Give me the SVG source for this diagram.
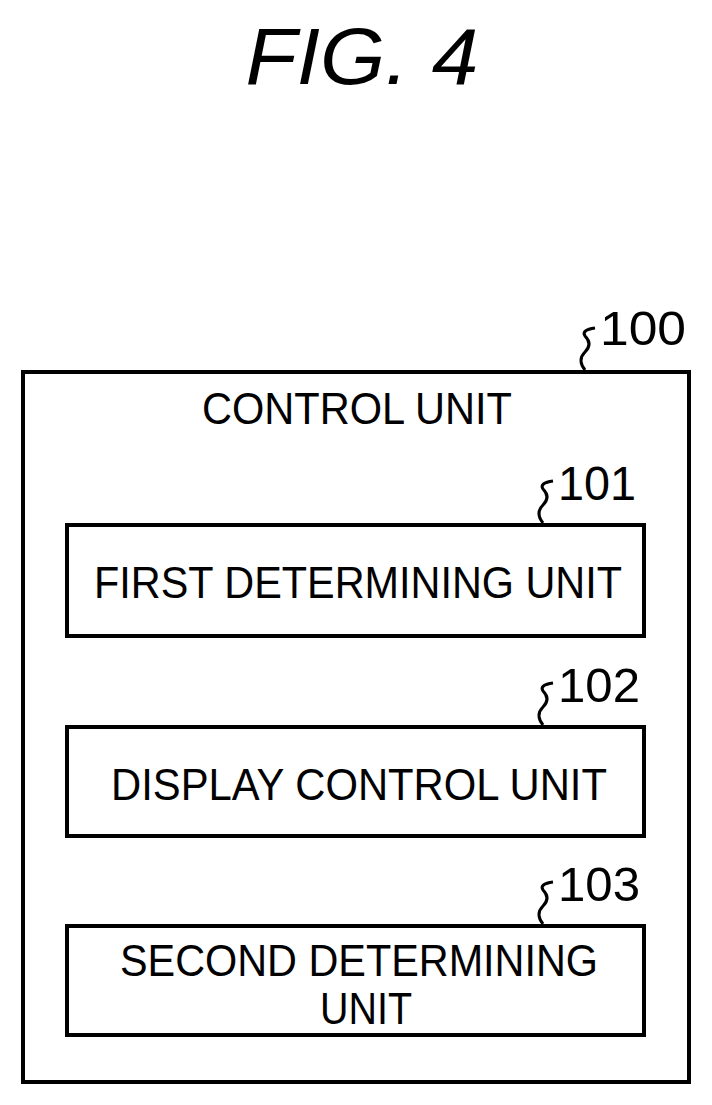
<svg xmlns="http://www.w3.org/2000/svg" width="712" height="1105" viewBox="0 0 712 1105">
<style>
.b{fill:#fff;stroke:#000;stroke-width:4}
.t{font-family:"Liberation Sans",Arial,sans-serif;font-size:44px;fill:#000}
.n{font-size:48px}
.s{fill:none;stroke:#000;stroke-width:3}
</style>
<rect width="712" height="1105" fill="#fff"/>
<text x="362" y="84" text-anchor="middle" class="t" style="font-size:80px;font-style:italic" textLength="233" lengthAdjust="spacingAndGlyphs">FIG. 4</text>
<g id="n100"><rect class="b" x="23" y="372" width="666" height="710"/>
<text x="357" y="424" text-anchor="middle" class="t" textLength="310" lengthAdjust="spacingAndGlyphs">CONTROL UNIT</text></g>
<g id="n101"><rect class="b" x="67" y="525" width="577" height="111"/>
<text x="358" y="598" text-anchor="middle" class="t" textLength="528" lengthAdjust="spacingAndGlyphs">FIRST DETERMINING UNIT</text></g>
<g id="n102"><rect class="b" x="67" y="727" width="577" height="109"/>
<text x="359" y="800" text-anchor="middle" class="t" textLength="496" lengthAdjust="spacingAndGlyphs">DISPLAY CONTROL UNIT</text></g>
<g id="n103"><rect class="b" x="67" y="926" width="577" height="109"/>
<text x="359" y="976" text-anchor="middle" class="t" textLength="478" lengthAdjust="spacingAndGlyphs">SECOND DETERMINING</text>
<text x="366" y="1024" text-anchor="middle" class="t" textLength="92" lengthAdjust="spacingAndGlyphs">UNIT</text></g>
<g id="labels">
<path class="s" d="M585 370 q-8 -10 0 -18 q8 -8 0 -16 q-4 -6 10 -8"/>
<text x="600" y="345" class="t n" textLength="86" lengthAdjust="spacingAndGlyphs">100</text>
<path class="s" d="M543 523 q-8 -10 0 -18 q8 -8 0 -16 q-4 -6 10 -8"/>
<text x="558" y="500" class="t n" textLength="78" lengthAdjust="spacingAndGlyphs">101</text>
<path class="s" d="M543 725 q-8 -10 0 -18 q8 -8 0 -16 q-4 -6 10 -8"/>
<text x="558" y="702" class="t n" textLength="82" lengthAdjust="spacingAndGlyphs">102</text>
<path class="s" d="M543 924 q-8 -10 0 -18 q8 -8 0 -16 q-4 -6 10 -8"/>
<text x="558" y="901" class="t n" textLength="82" lengthAdjust="spacingAndGlyphs">103</text>
</g>
</svg>
